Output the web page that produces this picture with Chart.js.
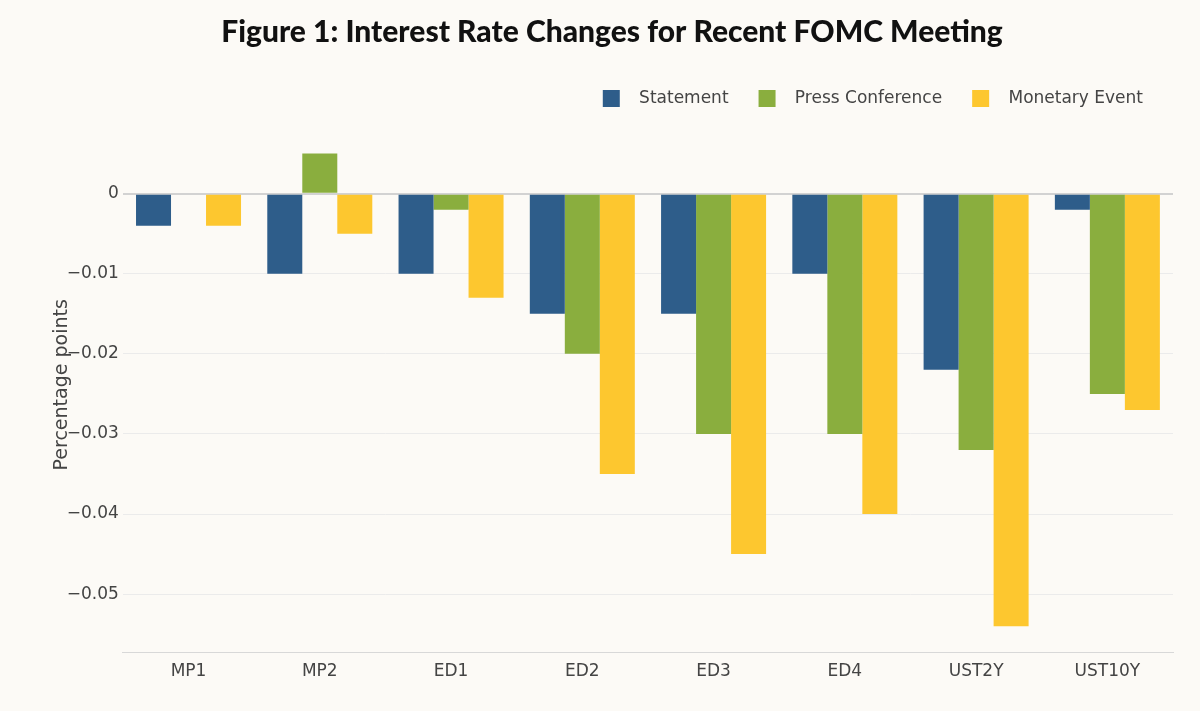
<!DOCTYPE html>
<html>
<head>
<meta charset="utf-8">
<script src="https://cdn.jsdelivr.net/npm/chart.js@4/dist/chart.umd.min.js"></script>
<style>
  html, body { margin:0; padding:0; background:#fcfaf6; }
  #wrap { width:1200px; height:711px; position:relative; }
</style>
</head>
<body>
<div id="wrap"><canvas id="ch-fomc"></canvas></div>
<script>
const categories = ['MP1','MP2','ED1','ED2','ED3','ED4','UST2Y','UST10Y'];
const statement  = [-0.004, -0.010, -0.010, -0.015, -0.015, -0.010, -0.022, -0.002];
const pressConf  = [ 0,      0.005, -0.002, -0.020, -0.030, -0.030, -0.032, -0.025];
const monetary   = [-0.004, -0.005, -0.013, -0.035, -0.045, -0.040, -0.054, -0.027];
const yTicks     = [0, -0.01, -0.02, -0.03, -0.04, -0.05];

const bgPlugin = {
  id: 'bg',
  beforeDraw(chart) {
    const c = chart.ctx;
    c.save(); c.fillStyle = '#fcfaf6'; c.fillRect(0, 0, chart.width, chart.height); c.restore();
  }
};

const fmt = v => v === 0 ? '0' : (v < 0 ? '\u2212' : '') + Math.abs(v).toFixed(2);

new Chart(document.getElementById('ch-fomc'), {
  type: 'bar',
  data: { labels: categories, datasets: [
    { label:'Statement',        data:statement, backgroundColor:'#2e5d8a' },
    { label:'Press Conference', data:pressConf, backgroundColor:'#8aae3e' },
    { label:'Monetary Event',   data:monetary,  backgroundColor:'#fdc72f' },
  ]},
  options: {
    responsive:true, maintainAspectRatio:false, animation:false,
    layout:{ padding:{ left:51, right:27, top:14, bottom:20 } },
    datasets:{ bar:{ categoryPercentage:0.8, barPercentage:1.0, borderWidth:0 } },
    plugins:{
      title:{ display:true, text:'Figure 1: Interest Rate Changes for Recent FOMC Meeting', color:'#111',
        font:{ family:'Lato', size:30, weight:'900' }, padding:{ top:0, bottom:10 } },
      legend:{ position:'top', align:'end',
        labels:{ boxWidth:17, boxHeight:17, padding:30, color:'#444',
          font:{ family:'DejaVu Sans', size:17 },
          generateLabels: chart => Chart.defaults.plugins.legend.labels.generateLabels(chart)
            .map(l => ({ ...l, text:'  ' + l.text })) } },
      tooltip:{ enabled:false }
    },
    scales:{
      x:{ grid:{ display:false, drawTicks:false }, border:{ color:'#d8d8d8' },
        ticks:{ color:'#444', padding:9, font:{ family:'DejaVu Sans', size:17 } } },
      y:{ min:-0.0573, max:0.00957,
        afterBuildTicks: ax => { ax.ticks = yTicks.map(v => ({ value:v })); },
        grid:{ drawTicks:false, color: c => c.tick && c.tick.value === 0 ? '#d2d2d2' : '#ebebeb',
          lineWidth: c => c.tick && c.tick.value === 0 ? 2 : 1 },
        border:{ display:false },
        ticks:{ color:'#444', padding:4, callback:v => fmt(v), font:{ family:'DejaVu Sans', size:17 } },
        title:{ display:true, text:'Percentage points', color:'#444', padding:{ top:0, bottom:-11 },
          font:{ family:'DejaVu Sans', size:19 } } }
    }
  },
  plugins:[bgPlugin]
});
</script>
</body>
</html>
